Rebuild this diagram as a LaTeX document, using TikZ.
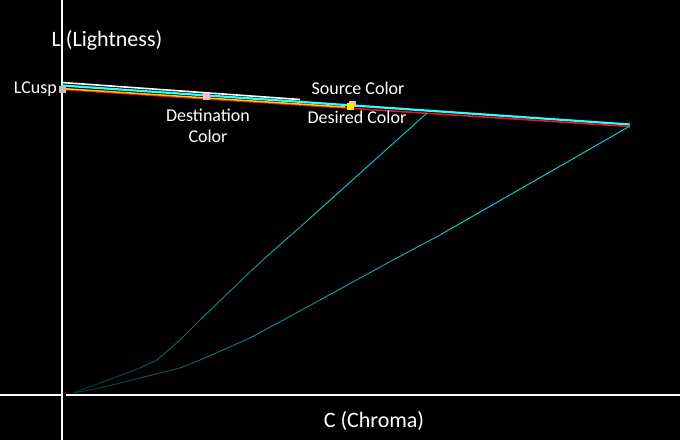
\documentclass[tikz,border=0pt]{standalone}
\usepackage{fontspec}
\setmainfont{Carlito}
\definecolor{hi}{RGB}{20,205,205}
\definecolor{lo}{RGB}{8,40,40}
\definecolor{topcyan}{RGB}{40,255,255}
\definecolor{tred}{RGB}{240,20,20}
\definecolor{tyellow}{RGB}{255,200,0}
\definecolor{pinkish}{RGB}{255,182,193}
\definecolor{grayish}{RGB}{190,190,190}
\definecolor{ylw}{RGB}{255,235,0}
\begin{document}
\begin{tikzpicture}[x=1pt,y=-1pt,
  lbl/.style={text=white,font=\fontsize{18}{21}\selectfont,inner sep=0pt,align=center},
  axlbl/.style={lbl,font=\fontsize{22}{26}\selectfont},
  sq/.style={minimum size=6.5pt,inner sep=0pt,draw=none},
  axis/.style={white,line width=1.2pt},
  seg/.style={line width=1pt,line join=round}]
\fill[black] (0,0) rectangle (680,440);
\useasboundingbox (0,0) rectangle (680,440);
% axes
\coordinate (vt) at (62,0); \coordinate (vb) at (62,440);
\coordinate (hl) at (0,395); \coordinate (hm) at (62,395);
\coordinate (hm2) at (66,395); \coordinate (hr) at (680,395);
\draw[axis] (vt)--(vb);
\draw[axis] (hl)--(hm) (hm2)--(hr);
% top lines
\coordinate (end) at (630,126);
\coordinate (w1) at (62,82.5); \coordinate (w2) at (300,99.5);
\coordinate (c1) at (62,85.5); \coordinate (c2) at (630,124.5);
\coordinate (r1) at (62,89.5); \coordinate (r2) at (630,126.5);
\coordinate (y1) at (62,88.5); \coordinate (y2) at (345,107);
\draw[white,line width=1.6pt] (w1)--(w2);
\draw[topcyan,line width=2.2pt] (c1)--(c2);
\draw[tred,line width=1.6pt] (r1)--(r2);
\draw[tyellow,line width=1.5pt] (y1)--(y2);
% inner curve
\coordinate (i1) at (427,113); \coordinate (i2) at (308,220);
\coordinate (i3) at (265,258); \coordinate (i4) at (252,270);
\coordinate (i5) at (200,320); \coordinate (i6) at (180,340);
\coordinate (i7) at (157,360); \coordinate (i8) at (140,368);
\coordinate (i9) at (100,383); \coordinate (base) at (73,393);
\draw[seg,hi!92!lo] (i1)--(i2);
\draw[seg,hi!75!lo] (i2)--(i3);
\draw[seg,hi!66!lo] (i3)--(i4);
\draw[seg,hi!56!lo] (i4)--(i5);
\draw[seg,hi!44!lo] (i5)--(i6);
\draw[seg,hi!36!lo] (i6)--(i7);
\draw[seg,hi!28!lo] (i7)--(i8);
\draw[seg,hi!18!lo] (i8)--(i9);
\draw[seg,hi!8!lo] (i9)--(base);
% outer curve
\coordinate (o2) at (440,235); \coordinate (o3) at (393,260);
\coordinate (o4) at (320,300); \coordinate (o5) at (250,338);
\coordinate (o6) at (200,360); \coordinate (o7) at (180,368);
\coordinate (o8) at (140,378); \coordinate (o9) at (100,388);
\draw[seg,hi!95!lo] (end)--(o2);
\draw[seg,hi!80!lo] (o2)--(o3);
\draw[seg,hi!70!lo] (o3)--(o4);
\draw[seg,hi!57!lo] (o4)--(o5);
\draw[seg,hi!45!lo] (o5)--(o6);
\draw[seg,hi!36!lo] (o6)--(o7);
\draw[seg,hi!27!lo] (o7)--(o8);
\draw[seg,hi!17!lo] (o8)--(o9);
\draw[seg,hi!8!lo] (o9)--(base);
% squares
\node[sq,fill=grayish] (lcusp) at (62.5,89.3) {};
\node[sq,fill=pinkish] (dest) at (206.7,96.7) {};
\node[sq,fill=pinkish] (src) at (352.3,104) {};
\node[sq,fill=ylw] (desired) at (350.3,106.7) {};
% labels
\node[lbl,anchor=east] (lcusplbl) at (57,89) {LCusp};
\node[lbl] (destlbl) at (208,125.5) {Destination\\Color};
\node[lbl] (srclbl) at (358,88) {Source Color};
\node[lbl] (desiredlbl) at (357,117) {Desired Color};
\node[axlbl,anchor=west] (ylab) at (51.5,40) {L (Lightness)};
\node[axlbl] (xlab) at (374,421) {C (Chroma)};
\end{tikzpicture}
\end{document}
